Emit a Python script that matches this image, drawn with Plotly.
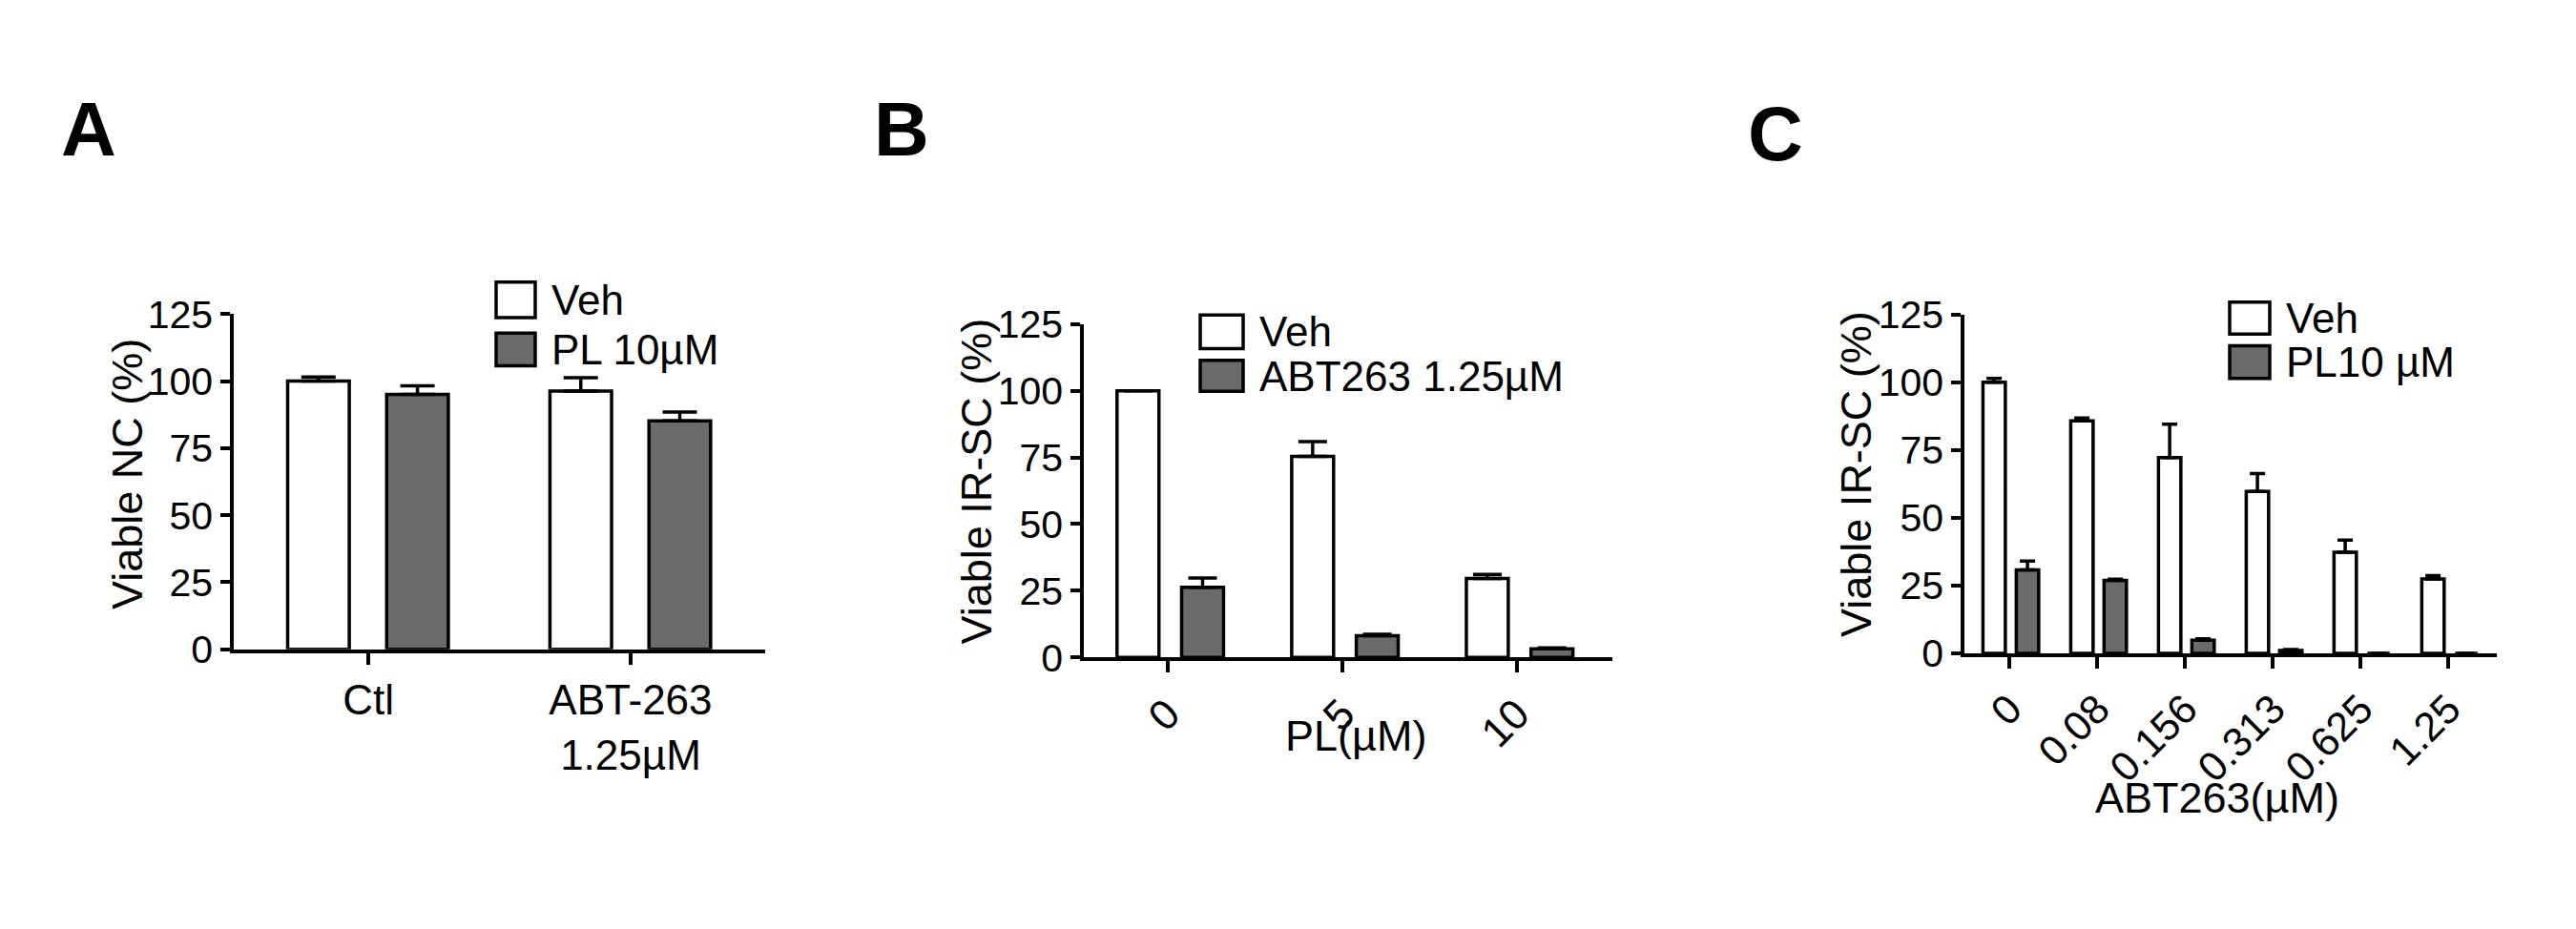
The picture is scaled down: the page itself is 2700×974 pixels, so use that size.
"""Cell viability bar charts (panels A, B, C) rebuilt with Plotly."""

import plotly.graph_objects as go

FONT = "Liberation Sans, Arial, sans-serif"
GREY = "#6b6b6b"
W, H = 2700, 974

# panel A: normal cells
a_groups = ["Ctl", "ABT-263<br>1.25µM"]
a_veh = [100, 96.3]
a_veh_err = [1.5, 5.0]
a_pl = [95, 85.2]
a_pl_err = [3.2, 3.3]

# panel B: IR-SC, PL dose
b_groups = ["0", "5", "10"]
b_veh = [100, 75.4, 29.6]
b_veh_err = [0, 5.5, 1.5]
b_abt = [26.3, 8.2, 3.3]
b_abt_err = [3.5, 0.5, 0.3]

# panel C: IR-SC, ABT263 dose (no PL bar left at the two top doses)
c_groups = ["0", "0.08", "0.156", "0.313", "0.625", "1.25"]
c_veh = [100, 85.8, 72.2, 59.7, 37.3, 27.5]
c_veh_err = [1.4, 1.0, 12.3, 6.6, 4.5, 1.2]
c_pl = [30.8, 26.9, 4.9, 1.1, 0, 0]
c_pl_err = [3.3, 0.5, 0.5, 0.3, None, None]

y_ticks = [0, 25, 50, 75, 100, 125]


def px(x):
    return x / W


def py(y):
    return 1 - y / H


def bar(x, y, err, fill, offset, width, cap, ax):
    return go.Bar(
        x=x, y=y, xaxis="x" + ax, yaxis="y" + ax,
        offset=offset, width=width,
        marker=dict(color=fill, line=dict(color="black", width=3.5)),
        error_y=dict(type="data", symmetric=False, array=err,
                     arrayminus=[0 if e is not None else None for e in err],
                     color="black", thickness=3.5, width=cap),
        showlegend=False,
    )


fig = go.Figure()
fig.add_trace(bar(a_groups, a_veh, a_veh_err, "white", -0.3075, 0.235, 18, ""))
fig.add_trace(bar(a_groups, a_pl, a_pl_err, GREY, 0.07, 0.235, 18, ""))
fig.add_trace(bar(b_groups, b_veh, b_veh_err, "white", -0.29, 0.24, 15, "2"))
fig.add_trace(bar(b_groups, b_abt, b_abt_err, GREY, 0.08, 0.24, 15, "2"))
fig.add_trace(bar(c_groups, c_veh, c_veh_err, "white", -0.305, 0.255, 8, "3"))
fig.add_trace(bar(c_groups, c_pl, c_pl_err, GREY, 0.075, 0.255, 8, "3"))

axis_style = dict(showline=True, linecolor="black", linewidth=3.5,
                  ticks="outside", tickcolor="black", tickwidth=3.5,
                  showgrid=False, zeroline=False, fixedrange=True)

yaxis = dict(axis_style, range=[0, 125], tickvals=y_ticks, ticklen=10,
             tickfont=dict(size=41, family=FONT, color="black"))

fig.update_layout(
    width=W, height=H,
    margin=dict(l=0, r=0, t=0, b=0),
    paper_bgcolor="white", plot_bgcolor="white",
    barmode="overlay",
    font=dict(family=FONT, color="black"),
    xaxis=dict(axis_style, domain=[px(237), px(794)], anchor="y",
               type="category", range=[-0.513, 1.513], ticklen=12,
               tickfont=dict(size=44)),
    yaxis=dict(yaxis, domain=[py(682), py(313)], anchor="x"),
    xaxis2=dict(axis_style, domain=[px(1128), px(1682)], anchor="y2",
                type="category", range=[-0.48, 2.546], ticklen=12,
                tickangle=-45, tickfont=dict(size=44)),
    yaxis2=dict(yaxis, domain=[py(691), py(324)], anchor="x2"),
    xaxis3=dict(axis_style, domain=[px(2051), px(2609)], anchor="y3",
                type="category", range=[-0.516, 5.55], ticklen=12,
                tickangle=-45, tickfont=dict(size=43)),
    yaxis3=dict(yaxis, domain=[py(686.5), py(313.5)], anchor="x3"),
)

# panel letters, axis titles
notes = [
    ("A", 85, 110, 0, 80, True),
    ("B", 937, 110, 0, 80, True),
    ("C", 1853, 115, 0, 80, True),
    ("Viable NC (%)", 126, 489, -90, 45, False),
    ("Viable IR-SC (%)", 1016, 497, -90, 45, False),
    ("Viable IR-SC (%)", 1938, 489, -90, 45, False),
    ("PL(µM)", 1413, 777, 0, 45, False),
    ("ABT263(µM)", 2316, 845, 0, 45, False),
]
for text, x, y, angle, size, bold in notes:
    fig.add_annotation(
        text="<b>%s</b>" % text if bold else text,
        x=px(x), y=py(y), xref="paper", yref="paper",
        xanchor="center", yanchor="middle", textangle=angle,
        showarrow=False, font=dict(size=size, family=FONT, color="black"),
    )

# hand-made legends (swatch box + label)
legends = [
    (512, 553, [(278, 317, "white", "Veh"), (334, 370, GREY, "PL 10µM")]),
    (1250, 1295, [(314, 351, "white", "Veh"), (364, 398, GREY, "ABT263 1.25µM")]),
    (2329, 2371, [(300, 335, "white", "Veh"), (348, 384, GREY, "PL10 µM")]),
]
for x0, x1, items in legends:
    for y0, y1, fill, label in items:
        fig.add_shape(type="rect", xref="paper", yref="paper",
                      x0=px(x0), x1=px(x1), y0=py(y1), y1=py(y0),
                      fillcolor=fill, line=dict(color="black", width=3.5))
        fig.add_annotation(text=label, x=px(x1 + 16), y=py((y0 + y1) / 2),
                           xref="paper", yref="paper", xanchor="left",
                           yanchor="middle", showarrow=False, borderpad=0,
                           font=dict(size=44, family=FONT, color="black"))

fig.write_html("out.html")
